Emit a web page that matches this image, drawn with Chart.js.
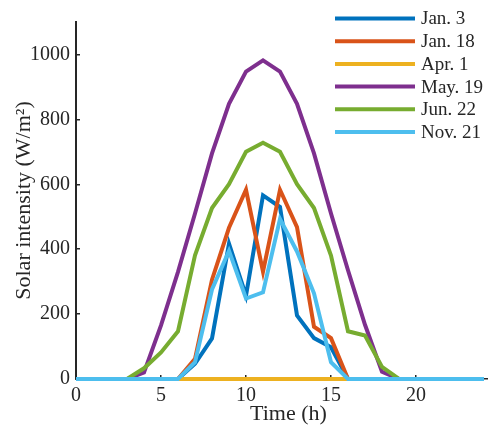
<!DOCTYPE html>
<html>
<head>
<meta charset="utf-8">
<script src="https://cdn.jsdelivr.net/npm/chart.js@4/dist/chart.umd.min.js"></script>
<style>
html, body { margin: 0; padding: 0; background: #fff; overflow: hidden; }
#wrap { width: 488px; height: 428px; overflow: hidden; }
</style>
</head>
<body>
<div id="wrap"><canvas id="chart" width="520" height="428"></canvas></div>
<script>
// hourly solar intensity, W/m^2
const hours = [0, 1, 2, 3, 4, 5, 6, 7, 8, 9, 10, 11, 12, 13, 14, 15, 16, 17, 18, 19, 20, 21, 22, 23, 24];
const jan3  = [0, 0, 0, 0, 0, 0, 0, 47, 125, 417, 257, 566, 530, 196, 126, 98, 0, 0, 0, 0, 0, 0, 0, 0, 0];
const jan18 = [0, 0, 0, 0, 0, 0, 0, 62, 306, 466, 583, 331, 583, 468, 161, 126, 0, 0, 0, 0, 0, 0, 0, 0, 0];
const apr1  = [0, 0, 0, 0, 0, 0, 0, 0, 0, 0, 0, 0, 0, 0, 0, 0, 0, 0, 0, 0, 0, 0, 0, 0, 0];
const may19 = [0, 0, 0, 0, 20, 165, 330, 510, 695, 848, 947, 982, 947, 848, 695, 510, 335, 167, 22, 0, 0, 0, 0, 0, 0];
const jun22 = [0, 0, 0, 0, 33, 82, 147, 381, 527, 600, 700, 728, 700, 600, 527, 380, 147, 134, 37, 0, 0, 0, 0, 0, 0];
const nov21 = [0, 0, 0, 0, 0, 0, 0, 52, 276, 395, 248, 267, 493, 393, 264, 52, 0, 0, 0, 0, 0, 0, 0, 0, 0];

const seriesNames = ['Jan. 3', 'Jan. 18', 'Apr. 1', 'May. 19', 'Jun. 22', 'Nov. 21'];
const seriesData = [jan3, jan18, apr1, may19, jun22, nov21];
const seriesColors = ['#0072BD', '#D95319', '#EDB120', '#7E2F8E', '#77AC30', '#4DBEEE'];

const xTicks = [0, 5, 10, 15, 20, 25];
const yTicks = [0, 200, 400, 600, 800, 1000];

const serif = '"Liberation Serif", "Times New Roman", serif';
const ink = '#262626';

// later series sit on top, like a plot drawn one line after another
const datasets = seriesData.map((vals, i) => ({
  label: seriesNames[i],
  data: hours.map((h, j) => ({ x: h, y: vals[j] })),
  borderColor: seriesColors[i],
  backgroundColor: seriesColors[i],
  borderWidth: 4,
  pointRadius: 0,
  tension: 0,
  fill: false,
  clip: false,
  order: -i
}));

// legend: short line samples with labels, top right
const lineLegend = {
  id: 'lineLegend',
  afterDatasetsDraw(chart) {
    const ctx = chart.ctx;
    ctx.save();
    ctx.font = '19px ' + serif;
    ctx.textBaseline = 'middle';
    ctx.textAlign = 'left';
    chart.data.datasets.forEach((ds, i) => {
      const y = 18.5 + i * 22.7;
      ctx.strokeStyle = ds.borderColor;
      ctx.lineWidth = 4;
      ctx.beginPath();
      ctx.moveTo(335, y);
      ctx.lineTo(415, y);
      ctx.stroke();
      ctx.fillStyle = ink;
      ctx.fillText(ds.label, 421, y + 1);
    });
    ctx.restore();
  }
};

const plain = v => String(v);

new Chart(document.getElementById('chart'), {
  type: 'line',
  data: { datasets },
  plugins: [lineLegend],
  options: {
    responsive: false,
    animation: false,
    devicePixelRatio: 1,
    layout: { padding: { left: 0, top: 11, right: 15, bottom: 0 } },
    plugins: {
      legend: { display: false },
      tooltip: { enabled: false }
    },
    scales: {
      x: {
        type: 'linear',
        min: 0,
        max: 25,
        afterBuildTicks: s => { s.ticks = xTicks.map(v => ({ value: v })); },
        afterFit: s => { s.height = 49; },
        ticks: { color: ink, font: { family: serif, size: 20 }, padding: 9, maxRotation: 0, autoSkip: false, callback: plain },
        grid: { drawOnChartArea: false, drawTicks: true, tickLength: -4, color: ink, lineWidth: 1.5 },
        border: { color: ink, width: 1.5 },
        title: { display: true, text: 'Time (h)', color: ink, font: { family: serif, size: 22 }, padding: { top: 0, bottom: 1 } }
      },
      y: {
        min: 0,
        max: 1100,
        afterBuildTicks: s => { s.ticks = yTicks.map(v => ({ value: v })); },
        afterFit: s => { s.width = 76; },
        ticks: { color: ink, font: { family: serif, size: 20 }, padding: 10, callback: plain },
        grid: { drawOnChartArea: false, drawTicks: true, tickLength: -4, color: ink, lineWidth: 1.5 },
        border: { color: ink, width: 2 },
        title: { display: true, text: 'Solar intensity (W/m²)', color: ink, font: { family: serif, size: 22 }, padding: { top: 11, bottom: 0 } }
      }
    }
  }
});
</script>
</body>
</html>
